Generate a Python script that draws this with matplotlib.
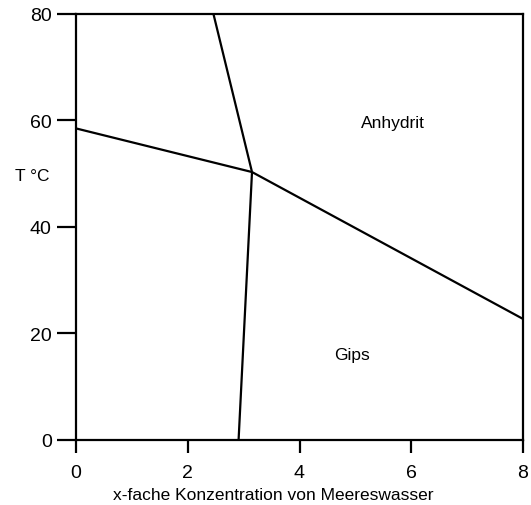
import matplotlib
matplotlib.use("Agg")
import matplotlib.pyplot as plt

plt.rcParams['font.family'] = ['Liberation Sans', 'DejaVu Sans']

# Phase boundaries (x-fold seawater concentration, temperature in °C)
triple_x, triple_t = 3.15, 50.3
boundary_left_x = [0.0, triple_x]
boundary_left_t = [58.5, triple_t]
boundary_top_x = [2.46, triple_x]
boundary_top_t = [80.0, triple_t]
boundary_bottom_x = [2.91, triple_x]
boundary_bottom_t = [0.0, triple_t]
boundary_right_x = [triple_x, 8.0]
boundary_right_t = [triple_t, 22.7]

x_ticks = [0, 2, 4, 6, 8]
y_ticks = [0, 20, 40, 60, 80]

fig = plt.figure(figsize=(5.31, 5.06), dpi=100)
ax = fig.add_axes([76 / 531, 1 - 440.7 / 506, 447 / 531, 425.7 / 506])

for xs, ts in [(boundary_left_x, boundary_left_t),
               (boundary_top_x, boundary_top_t),
               (boundary_bottom_x, boundary_bottom_t),
               (boundary_right_x, boundary_right_t)]:
    ax.plot(xs, ts, color='black', lw=1.6, solid_capstyle='butt')

ax.set_xlim(0, 8)
ax.set_ylim(0, 80)
ax.set_xticks(x_ticks)
ax.set_yticks(y_ticks)
ax.tick_params(axis='y', direction='out', length=13.4, width=1.6, pad=4, labelsize=14)
ax.tick_params(axis='x', direction='out', length=9.5, width=1.6, pad=8, labelsize=14)
for s in ax.spines.values():
    s.set_linewidth(1.6)

ax.text(5.68, 59.7, 'Anhydrit', ha='center', va='center', fontsize=12.5)
ax.text(4.94, 16.1, 'Gips', ha='center', va='center', fontsize=12.5)

fig.text(32 / 531, 1 - 176.7 / 506, 'T °C', ha='center', va='center', fontsize=12.5)
fig.text(273 / 531, 1 - 496 / 506, 'x-fache Konzentration von Meereswasser',
         ha='center', va='center', fontsize=12.5)

fig.savefig('out.png', dpi=100)
